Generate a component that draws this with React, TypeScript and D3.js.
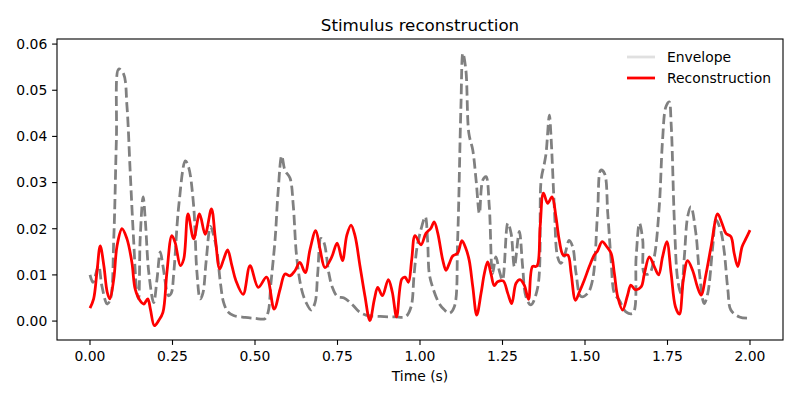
import React from 'react';
import * as d3 from 'd3';

// envelope (gray dashed)
const envTime = [
  0.000, 0.009, 0.026, 0.036, 0.052, 0.062, 0.072, 0.080, 0.087, 0.102, 0.112, 0.122, 0.132, 0.142,
  0.147, 0.152, 0.161, 0.168, 0.178, 0.193, 0.203, 0.213, 0.221, 0.238, 0.246, 0.254, 0.269, 0.289,
  0.299, 0.314, 0.324, 0.334, 0.342, 0.352, 0.365, 0.373, 0.385, 0.394, 0.405, 0.418, 0.435, 0.470,
  0.500, 0.530, 0.540, 0.548, 0.561, 0.570, 0.581, 0.591, 0.606, 0.616, 0.626, 0.641, 0.655, 0.670,
  0.682, 0.690, 0.700, 0.709, 0.724, 0.734, 0.750, 0.770, 0.796, 0.816, 0.836, 0.880, 0.925, 0.957,
  0.973, 0.982, 0.991, 1.000, 1.016, 1.023, 1.028, 1.038, 1.058, 1.073, 1.089, 1.104, 1.114, 1.124,
  1.130, 1.139, 1.148, 1.160, 1.170, 1.180, 1.190, 1.200, 1.210, 1.220, 1.230, 1.240, 1.250, 1.266,
  1.276, 1.286, 1.301, 1.311, 1.321, 1.336, 1.357, 1.367, 1.377, 1.382, 1.392, 1.397, 1.407, 1.417,
  1.427, 1.440, 1.452, 1.463, 1.473, 1.488, 1.508, 1.523, 1.538, 1.548, 1.559, 1.569, 1.579, 1.589,
  1.604, 1.624, 1.645, 1.655, 1.665, 1.675, 1.680, 1.695, 1.710, 1.725, 1.735, 1.745, 1.755, 1.761,
  1.771, 1.781, 1.791, 1.801, 1.811, 1.821, 1.836, 1.846, 1.861, 1.872, 1.887, 1.897, 1.912, 1.922,
  1.933, 1.942, 1.968, 2.000,
];
const envValue = [
  0.0100, 0.0084, 0.0120, 0.0076, 0.0037, 0.0048, 0.0178, 0.0394, 0.0546, 0.0535, 0.0466, 0.0320, 0.0178, 0.0063,
  0.0048, 0.0178, 0.0269, 0.0214, 0.0106, 0.0040, 0.0090, 0.0150, 0.0120, 0.0055, 0.0060, 0.0106, 0.0250, 0.0347,
  0.0333, 0.0250, 0.0106, 0.0048, 0.0060, 0.0130, 0.0205, 0.0190, 0.0150, 0.0090, 0.0040, 0.0020, 0.0012, 0.0008,
  0.0006, 0.0005, 0.0020, 0.0080, 0.0178, 0.0280, 0.0358, 0.0326, 0.0310, 0.0250, 0.0141, 0.0069, 0.0040, 0.0024,
  0.0040, 0.0103, 0.0179, 0.0170, 0.0103, 0.0074, 0.0053, 0.0050, 0.0035, 0.0020, 0.0013, 0.0010, 0.0009, 0.0010,
  0.0031, 0.0100, 0.0160, 0.0190, 0.0226, 0.0175, 0.0103, 0.0074, 0.0038, 0.0025, 0.0017, 0.0031, 0.0175, 0.0464,
  0.0580, 0.0544, 0.0407, 0.0370, 0.0305, 0.0233, 0.0305, 0.0313, 0.0248, 0.0103, 0.0139, 0.0110, 0.0089, 0.0212,
  0.0190, 0.0118, 0.0194, 0.0118, 0.0053, 0.0035, 0.0074, 0.0305, 0.0342, 0.0363, 0.0446, 0.0400, 0.0248, 0.0139,
  0.0125, 0.0147, 0.0175, 0.0160, 0.0103, 0.0053, 0.0060, 0.0089, 0.0233, 0.0327, 0.0320, 0.0233, 0.0132, 0.0060,
  0.0045, 0.0020, 0.0017, 0.0139, 0.0212, 0.0175, 0.0103, 0.0103, 0.0139, 0.0248, 0.0392, 0.0464, 0.0475, 0.0428,
  0.0212, 0.0089, 0.0060, 0.0139, 0.0226, 0.0248, 0.0190, 0.0110, 0.0038, 0.0060, 0.0161, 0.0219, 0.0194, 0.0150,
  0.0067, 0.0024, 0.0009, 0.0006,
];

// reconstruction (red)
const recTime = [
  0.000, 0.011, 0.021, 0.031, 0.042, 0.052, 0.060, 0.072, 0.082, 0.097, 0.112, 0.127, 0.137, 0.152,
  0.163, 0.175, 0.183, 0.195, 0.208, 0.221, 0.233, 0.248, 0.258, 0.274, 0.284, 0.297, 0.314, 0.332,
  0.349, 0.368, 0.380, 0.393, 0.405, 0.417, 0.430, 0.442, 0.464, 0.485, 0.510, 0.535, 0.558, 0.576,
  0.591, 0.606, 0.621, 0.636, 0.652, 0.667, 0.684, 0.697, 0.712, 0.732, 0.749, 0.765, 0.778, 0.791,
  0.803, 0.818, 0.833, 0.848, 0.862, 0.872, 0.886, 0.904, 0.916, 0.929, 0.945, 0.955, 0.965, 0.975,
  0.985, 1.003, 1.018, 1.033, 1.043, 1.054, 1.069, 1.079, 1.089, 1.099, 1.114, 1.127, 1.139, 1.149,
  1.160, 1.172, 1.185, 1.195, 1.205, 1.215, 1.225, 1.235, 1.252, 1.266, 1.278, 1.291, 1.303, 1.316,
  1.329, 1.341, 1.354, 1.364, 1.374, 1.387, 1.400, 1.412, 1.422, 1.434, 1.448, 1.458, 1.471, 1.483,
  1.498, 1.513, 1.528, 1.538, 1.552, 1.566, 1.579, 1.589, 1.599, 1.614, 1.629, 1.639, 1.652, 1.670,
  1.680, 1.695, 1.710, 1.723, 1.735, 1.748, 1.761, 1.774, 1.786, 1.798, 1.811, 1.826, 1.842, 1.852,
  1.867, 1.882, 1.902, 1.915, 1.927, 1.942, 1.952, 1.963, 1.976, 1.988, 2.000,
];
const recValue = [
  0.0028, 0.0048, 0.0106, 0.0163, 0.0120, 0.0063, 0.0048, 0.0091, 0.0163, 0.0200, 0.0178, 0.0127, 0.0069, 0.0044,
  0.0037, 0.0048, 0.0026, -0.0010, 0.0001, 0.0019, 0.0105, 0.0185, 0.0170, 0.0120, 0.0134, 0.0232, 0.0178, 0.0232,
  0.0188, 0.0243, 0.0178, 0.0113, 0.0134, 0.0154, 0.0120, 0.0088, 0.0058, 0.0120, 0.0073, 0.0095, 0.0026, 0.0069,
  0.0102, 0.0098, 0.0109, 0.0127, 0.0105, 0.0156, 0.0196, 0.0156, 0.0116, 0.0138, 0.0169, 0.0131, 0.0185, 0.0208,
  0.0185, 0.0120, 0.0055, 0.0001, 0.0048, 0.0073, 0.0055, 0.0090, 0.0063, 0.0009, 0.0091, 0.0095, 0.0084, 0.0134,
  0.0185, 0.0165, 0.0190, 0.0201, 0.0215, 0.0190, 0.0132, 0.0110, 0.0125, 0.0141, 0.0147, 0.0174, 0.0157, 0.0132,
  0.0074, 0.0013, 0.0060, 0.0103, 0.0128, 0.0103, 0.0077, 0.0085, 0.0087, 0.0060, 0.0038, 0.0082, 0.0090, 0.0078,
  0.0047, 0.0118, 0.0119, 0.0204, 0.0277, 0.0255, 0.0269, 0.0226, 0.0175, 0.0143, 0.0143, 0.0103, 0.0045, 0.0063,
  0.0089, 0.0118, 0.0143, 0.0152, 0.0172, 0.0161, 0.0147, 0.0103, 0.0053, 0.0024, 0.0056, 0.0078, 0.0068, 0.0074,
  0.0103, 0.0139, 0.0118, 0.0100, 0.0139, 0.0172, 0.0103, 0.0031, 0.0015, 0.0089, 0.0131, 0.0110, 0.0071, 0.0056,
  0.0103, 0.0161, 0.0232, 0.0212, 0.0190, 0.0183, 0.0147, 0.0118, 0.0161, 0.0179, 0.0197,
];

const xTicks = [0, 0.25, 0.5, 0.75, 1.0, 1.25, 1.5, 1.75, 2.0];
const yTicks = [0, 0.01, 0.02, 0.03, 0.04, 0.05, 0.06];

const W = 800;
const H = 400;
const margin = { left: 57, right: 17, top: 39, bottom: 60 };
const font = 'DejaVu Sans, sans-serif';

export default function App() {
  const x = d3.scaleLinear().domain([-0.1, 2.1]).range([margin.left, W - margin.right]);
  const y = d3.scaleLinear().domain([-0.0041, 0.0611]).range([H - margin.bottom, margin.top]);

  const line = d3.line<[number, number]>()
    .x(d => x(d[0]))
    .y(d => y(d[1]))
    .curve(d3.curveCatmullRom.alpha(0.5));

  const envPath = line(envTime.map((t, i) => [t, envValue[i]]));
  const recPath = line(recTime.map((t, i) => [t, recValue[i]]));

  const x0 = margin.left, x1 = W - margin.right;
  const y0 = margin.top, y1 = H - margin.bottom;

  return (
    <svg width={W} height={H} style={{ position: 'absolute', left: 0, top: 0, background: '#fff' }}
      fontFamily={font}>
      <rect x={0} y={0} width={W} height={H} fill="#fff" />
      <defs>
        <clipPath id="plotArea">
          <rect x={x0} y={y0} width={x1 - x0} height={y1 - y0} />
        </clipPath>
      </defs>

      <g clipPath="url(#plotArea)">
        <path d={envPath || ''} fill="none" stroke="#808080" strokeWidth={2.78}
          strokeDasharray="10.3 4.4" />
        <path d={recPath || ''} fill="none" stroke="#ff0000" strokeWidth={2.78}
          strokeLinejoin="round" />
      </g>

      {/* axes frame */}
      <rect x={x0} y={y0} width={x1 - x0} height={y1 - y0} fill="none" stroke="#000" strokeWidth={1.1} />

      {xTicks.map(t => (
        <g key={'x' + t}>
          <line x1={x(t)} x2={x(t)} y1={y1} y2={y1 + 4.9} stroke="#000" strokeWidth={1.1} />
          <text x={x(t)} y={y1 + 20.5} textAnchor="middle" fontSize={13.9} fill="#000">
            {t.toFixed(2)}
          </text>
        </g>
      ))}
      {yTicks.map(v => (
        <g key={'y' + v}>
          <line x1={x0 - 4.9} x2={x0} y1={y(v)} y2={y(v)} stroke="#000" strokeWidth={1.1} />
          <text x={x0 - 9.7} y={y(v)} dy="0.35em" textAnchor="end" fontSize={13.9} fill="#000">
            {v.toFixed(2)}
          </text>
        </g>
      ))}

      <text x={(x0 + x1) / 2} y={381} textAnchor="middle" fontSize={13.9} fill="#000">Time (s)</text>
      <text x={(x0 + x1) / 2} y={31} textAnchor="middle" fontSize={16.7} fill="#000">Stimulus reconstruction</text>

      {/* legend */}
      <g>
        <line x1={627} x2={655} y1={57} y2={57} stroke="#e0e0e0" strokeWidth={2.78} />
        <text x={667} y={57} dy="0.35em" fontSize={13.9} fill="#000">Envelope</text>
        <line x1={627} x2={655} y1={78} y2={78} stroke="#ff0000" strokeWidth={2.78} />
        <text x={667} y={78} dy="0.35em" fontSize={13.9} fill="#000">Reconstruction</text>
      </g>
    </svg>
  );
}
